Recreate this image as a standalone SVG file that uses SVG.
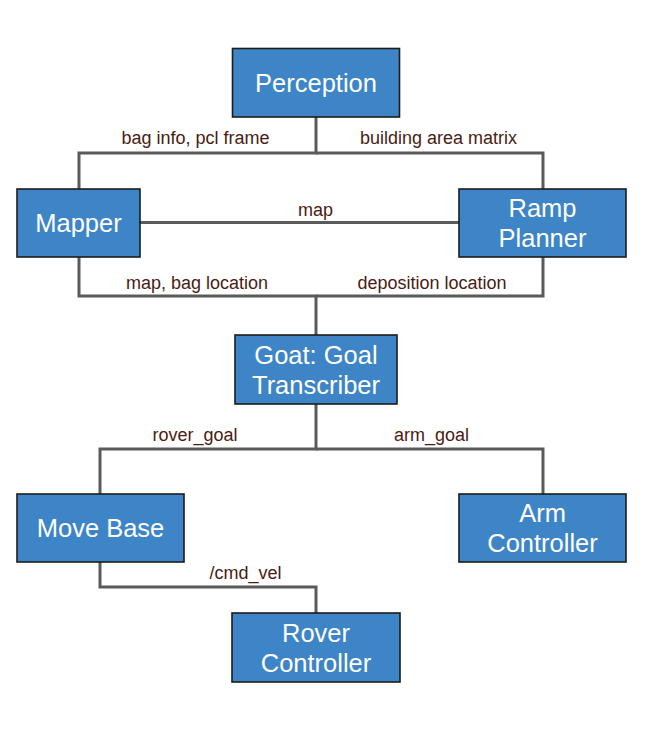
<svg xmlns="http://www.w3.org/2000/svg" width="645" height="730" viewBox="0 0 645 730">
<style>
.box{fill:#3d85c6;stroke:#1c1c1c;stroke-width:1.6}
.nt{font-family:"Liberation Sans",Arial,sans-serif;font-size:25.5px;fill:#ffffff;text-anchor:middle}
.lb{font-family:"Liberation Sans",Arial,sans-serif;font-size:18px;fill:#4a1c12;text-anchor:middle}
.cn{fill:none;stroke:#5a5a5a;stroke-width:3}
</style>
<rect width="645" height="730" fill="#ffffff"/>
<g id="connectors">
<path class="cn" d="M79,189 V153 H316 V117"/>
<path class="cn" d="M543,189 V153 H316"/>
<path class="cn" d="M140,222.5 H459"/>
<path class="cn" d="M79,257 V296 H316 V335"/>
<path class="cn" d="M543,257 V296 H316"/>
<path class="cn" d="M316,404 V449 H100 V494"/>
<path class="cn" d="M316,449 H543 V494"/>
<path class="cn" d="M100,562 V587 H316 V613"/>
<text class="lb" x="195.5" y="143.5">bag info, pcl frame</text>
<text class="lb" x="438.5" y="143.5">building area matrix</text>
<text class="lb" x="315.5" y="216">map</text>
<text class="lb" x="197" y="289">map, bag location</text>
<text class="lb" x="432" y="289">deposition location</text>
<text class="lb" x="195" y="441">rover_goal</text>
<text class="lb" x="431.5" y="441">arm_goal</text>
<text class="lb" x="245.5" y="579">/cmd_vel</text>
</g>
<g id="perception">
<rect class="box" x="232.5" y="48.5" width="167" height="68.5"/>
<text class="nt" x="316" y="91.7">Perception</text>
</g>
<g id="mapper">
<rect class="box" x="17" y="189" width="123" height="68"/>
<text class="nt" x="78.5" y="232.2">Mapper</text>
</g>
<g id="ramp-planner">
<rect class="box" x="459" y="189" width="167" height="68"/>
<text class="nt" x="542.5" y="217.2">Ramp</text>
<text class="nt" x="542.5" y="247.2">Planner</text>
</g>
<g id="goat">
<rect class="box" x="235" y="335" width="162" height="69"/>
<text class="nt" x="316" y="363.7">Goat: Goal</text>
<text class="nt" x="316" y="393.7">Transcriber</text>
</g>
<g id="move-base">
<rect class="box" x="17" y="494" width="167" height="68"/>
<text class="nt" x="100.5" y="537.2">Move Base</text>
</g>
<g id="arm-controller">
<rect class="box" x="459" y="494" width="167" height="68"/>
<text class="nt" x="542.5" y="522.2">Arm</text>
<text class="nt" x="542.5" y="552.2">Controller</text>
</g>
<g id="rover-controller">
<rect class="box" x="232" y="613" width="168" height="69"/>
<text class="nt" x="316" y="641.7">Rover</text>
<text class="nt" x="316" y="671.7">Controller</text>
</g>
</svg>
